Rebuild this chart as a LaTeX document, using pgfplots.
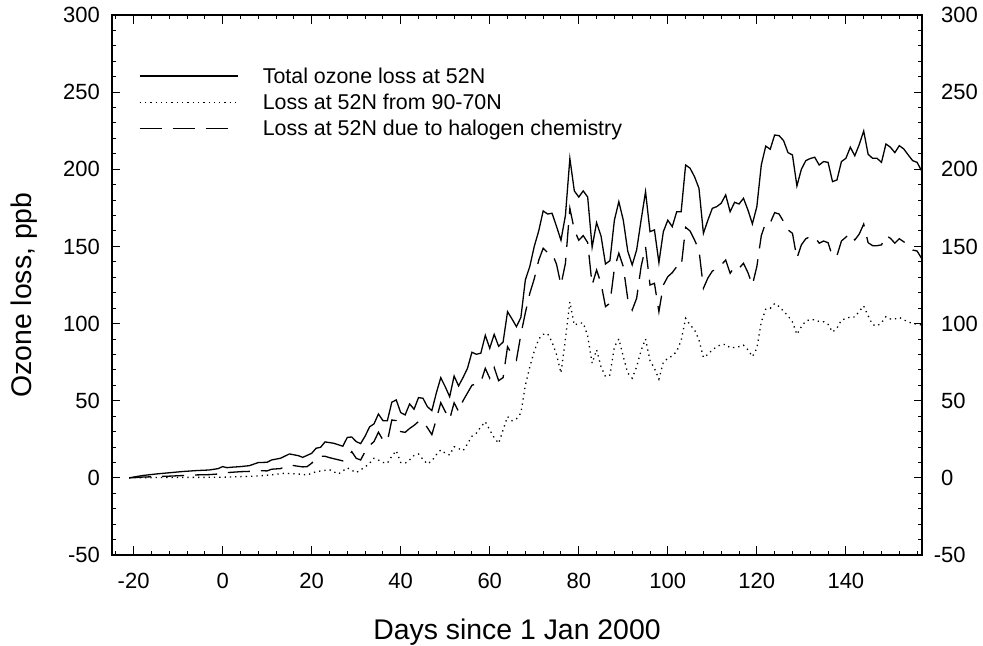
\documentclass[border=0pt]{standalone}
\usepackage{fontspec}
\setmainfont{Liberation Sans}
\usepackage{pgfplots}
\pgfplotsset{compat=1.18}
\begin{document}
\begin{tikzpicture}
\useasboundingbox (-112bp,-91bp) rectangle (871bp,555bp);
\begin{axis}[
  at={(0,0)}, anchor=south west,
  scale only axis, width=810bp, height=540bp,
  xmin=-24.85, xmax=157.1, ymin=-50, ymax=300,
  xtick={-20,0,...,140}, minor xtick={-24,-20,...,156},
  ytick={-50,0,...,300}, minor ytick={-50,-40,...,300},
  major tick length=8.5bp, minor tick length=4.5bp,
  tick style={line width=1bp, black},
  axis line style={line width=1.3bp},
  tick align=inside,
  /pgf/number format/assume math mode=true,
  tick label style={font=\fontsize{22bp}{25bp}\selectfont},
  xticklabel style={anchor=north, inner sep=0pt, yshift=-18bp},
  yticklabel style={anchor=east, inner sep=0pt, xshift=-12bp},
  xlabel={Days since 1 Jan 2000},
  ylabel={Ozone loss, ppb},
  label style={font=\fontsize{28.4bp}{32bp}\selectfont, inner sep=0pt},
  xlabel style={at={(axis description cs:0.5,0)}, anchor=base, yshift=-84bp},
  ylabel style={at={(axis description cs:-0.09877,0.29074)}, anchor=base west},
  legend style={at={(axis description cs:0,1)}, anchor=north west, xshift=27bp, yshift=-53bp,
    draw=none, fill=none, inner sep=0pt, outer sep=0pt,
    font=\fontsize{21.4bp}{25bp}\selectfont, row sep=6bp,
    nodes={inner sep=0pt, text height=15.6bp, text depth=4.5bp},
    cells={anchor=base west},
    /tikz/every odd column/.append style={column sep=24.5bp}},
  legend image code/.code={\draw[#1] (0bp,7.5bp) -- (98bp,7.5bp);},
]
\addplot[black, line width=1.3bp] coordinates {
(-21,0) (-18,1.5) (-15,2.5) (-12,3.3) (-9,4.1) (-6,4.7) (-3,5.1) (-1,6) (0,7.3) (1,6.6) (2,6.9) (4,7.3) (6,7.9) (8,9.9) (10,10.1) (11,11.6) (13,12.7) (15,15.5) (17,14.4) (18,13.3) (20,15.9) (21,19.2) (22,19.8) (23,23.3) (25,22.4) (27,20.5) (28,26.2) (29,26.5) (30,23.5) (31,22.2) (32,27) (33,33) (34,35) (35,41.4) (36,37.1) (37,37) (38,49) (39,50.5) (40,42.3) (41,40.8) (42,47.9) (43,44.5) (44,52) (45,51.6) (46,46.1) (47,43.6) (48,55) (49,64.9) (50,59.1) (51,52.6) (52,66) (53,59.6) (54,65) (55,71) (56,81.4) (57,80.1) (58,80.8) (59,92.4) (60,84) (61,93) (62,85.3) (63,88) (64,107.7) (65,103) (66,98) (67,104) (68,128.3) (69,137) (70,150) (71,160) (72,173) (73,171) (74,171.5) (75,163) (76,154) (77,170) (78,207) (79,186) (80,182) (81,186) (82,182) (83,149.5) (84,165.4) (85,156.8) (86,138.6) (87,140.8) (88,167) (89,179) (90,167) (91,147) (92,138) (93,147.7) (94,167) (95,185.5) (96,159.6) (97,160.7) (98,139.5) (99,159.6) (100,167) (101,162.8) (102,172.5) (103,172.5) (104,202.8) (105,200.7) (106,195.2) (107,187.7) (108,158.5) (109,167) (110,174.7) (111,175.8) (112,178) (113,183.4) (114,172.5) (115,178.6) (116,177.5) (117,181.2) (118,173.6) (119,164.6) (120,175.8) (121,202.8) (122,215) (123,213) (124,222.2) (125,221.8) (126,218.6) (127,210.8) (128,209.3) (129,189.2) (130,200) (131,205.6) (132,207) (133,207.8) (134,202.8) (135,205) (136,204.5) (137,192) (138,193.1) (139,205) (140,207.1) (141,214.3) (142,208.8) (143,216) (144,224.8) (145,209.7) (146,207.1) (147,207.1) (148,204.5) (149,216.4) (150,214.3) (151,210.8) (152,215.3) (153,213.2) (154,209.3) (155,205.6) (156,204.5) (157,199)
};
\addlegendentry{Total ozone loss at 52N}
\addplot[black, line width=1.3bp, dash pattern=on 1.3bp off 4bp] coordinates {
(-21,0) (-15,0.2) (-10,0.3) (-5,0.3) (0,0.4) (4,0.8) (8,1.2) (11,2) (14,3) (17,2.5) (19,1.9) (21,4) (24,5.3) (26,2.5) (28,6.5) (30,3.4) (32,7) (33,9.5) (34,12.7) (35,11.5) (36,10) (37,9.5) (38,14) (39,17.6) (40,10) (41,9.5) (42,11.6) (43,14.5) (44,15.5) (45,12) (46,9) (47,11) (48,15) (49,18.1) (50,16) (51,14.8) (52,20.2) (53,19) (54,17.6) (55,22) (56,27) (57,29) (58,33) (59,36.4) (60,31) (61,26) (62,22.4) (63,31) (64,39.7) (65,37) (66,38.2) (67,42) (68,60) (69,72) (70,82) (71,90) (72,93) (73,93.5) (74,88) (75,80) (76,68) (77,90) (78,114) (79,99) (80,100.2) (81,100.4) (82,92) (83,74.3) (84,83) (85,72) (86,65.6) (87,66.7) (88,85) (89,90) (90,78.6) (91,68) (92,64.6) (93,72) (94,82.5) (95,90) (96,76) (97,71) (98,64) (99,75) (100,77.5) (101,79) (102,82) (103,89) (104,103.4) (105,99.1) (106,96) (107,89.4) (108,78) (109,80) (110,83) (111,85) (112,86.5) (113,86.5) (114,84.3) (115,84.5) (116,85) (117,86) (118,83) (119,78.6) (120,84) (121,101) (122,109.3) (123,109.8) (124,113) (125,111) (126,108) (127,105) (128,101) (129,93) (130,98) (131,101.7) (132,102.5) (133,102.5) (134,101.3) (135,101.2) (136,99.5) (137,94.5) (138,97) (139,102.3) (140,103.2) (141,104.3) (142,104.2) (143,108) (144,111.4) (145,105) (146,99.3) (147,98.5) (148,100.5) (149,104.5) (150,103) (151,103) (152,104) (153,102.5) (154,101) (155,100.2) (156,99.6) (157,99.1)
};
\addlegendentry{Loss at 52N from 90-70N}
\addplot[black, line width=1.3bp, dash pattern=on 22bp off 11bp] coordinates {
(-21,0) (-18,0.5) (-15,0.8) (-12,1.1) (-9,1.5) (-6,1.9) (-3,2.1) (-1,2.5) (0,3.2) (1,3.4) (4,4.0) (6,4.2) (8,4.7) (10,4.5) (11,5.6) (13,6.0) (15,8.4) (17,7.5) (18,7.1) (19,7.3) (20,9.5) (21,12.5) (22,14) (23,14) (24,13.1) (25,12.4) (27,11) (28,13.1) (29,17) (30,12.7) (31,11.6) (32,17) (33,21) (34,23.5) (35,29.6) (36,24.6) (37,23.5) (38,37.5) (39,37.1) (40,30) (41,29.5) (42,32) (43,34) (44,36.5) (45,37) (46,32.5) (47,28) (48,38) (49,48.7) (50,43) (51,38) (52,48.7) (53,43) (54,50) (55,55) (56,60) (57,61) (58,62) (59,71) (60,64.6) (61,71.5) (62,63) (63,65) (64,85) (65,80) (66,76.4) (67,93) (68,107) (69,119.6) (70,129) (71,141) (72,148.8) (73,146) (74,145.6) (75,138.5) (76,125) (77,139) (78,174.7) (79,160.7) (80,154) (81,157) (82,152.5) (83,125) (84,134.7) (85,126.1) (86,111) (87,113.2) (88,135.8) (89,145.6) (90,136.9) (91,116) (92,108.8) (93,116.4) (94,136.9) (95,149.8) (96,125) (97,126.1) (98,107.7) (99,125) (100,130.4) (101,133) (102,136.9) (103,136.5) (104,162.4) (105,160) (106,154.2) (107,147.7) (108,122.9) (109,129.5) (110,134) (111,135.5) (112,138) (113,141.2) (114,132.6) (115,136.9) (116,135.8) (117,139.1) (118,133) (119,125) (120,137) (121,157) (122,165.5) (123,165.2) (124,171.9) (125,171) (126,166.1) (127,160.7) (128,158.5) (129,142.3) (130,151) (131,155) (132,156.3) (133,156.3) (134,152.1) (135,153.5) (136,152.4) (137,143.4) (138,144) (139,153.5) (140,156) (141,158.5) (142,154.2) (143,158) (144,164.5) (145,152.4) (146,150.5) (147,150.5) (148,151) (149,157) (150,155.3) (151,152.1) (152,155) (153,153) (154,151) (155,147.7) (156,147) (157,142.3)
};
\addlegendentry{Loss at 52N due to halogen chemistry}
\end{axis}
\begin{axis}[
  at={(0,0)}, anchor=south west,
  scale only axis, width=810bp, height=540bp,
  xmin=-24.85, xmax=157.1, ymin=-50, ymax=300,
  xtick=\empty, ytick={-50,0,...,300},
  yticklabels={\llap{-}50,0,50,100,150,200,250,300},
  yticklabel pos=right,
  major tick length=0pt, minor tick length=0pt,
  axis line style={draw=none},
  tick label style={font=\fontsize{22bp}{25bp}\selectfont},
  yticklabel style={anchor=west, inner sep=0pt, xshift=19bp},
]
\addplot[draw=none] coordinates {(0,0)};
\end{axis}
\end{tikzpicture}
\end{document}
